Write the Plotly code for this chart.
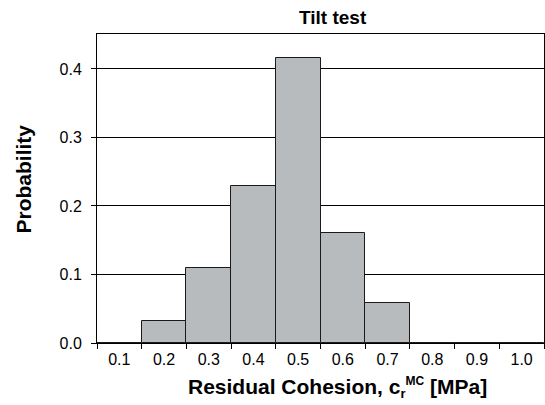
import plotly.graph_objects as go

categories = ["0.1", "0.2", "0.3", "0.4", "0.5", "0.6", "0.7", "0.8", "0.9", "1.0"]
probability = [0.0, 0.0326, 0.110, 0.2295, 0.4157, 0.1604, 0.058, 0.0, 0.0, 0.0]
y_ticks = [0.0, 0.1, 0.2, 0.3, 0.4]

font = "Liberation Sans, Arial, sans-serif"

fig = go.Figure(go.Bar(
    x=categories, y=probability,
    marker=dict(color="#b8bbbe", line=dict(color="#1a1a1a", width=1)),
))

fig.update_layout(
    width=545, height=405,
    margin=dict(l=97, r=1, t=34, b=62),
    plot_bgcolor="white", paper_bgcolor="white",
    bargap=0, showlegend=False,
    font=dict(family=font, color="#000000", size=16),
    annotations=[
        dict(text="<b>Tilt test</b>", xref="paper", yref="paper", x=0.529, y=1.053,
             xanchor="center", yanchor="middle", showarrow=False,
             font=dict(size=19, family=font)),
        dict(text="<b>Residual Cohesion, c<sub><span style='font-size:13px'>r</span></sub>"
                  "<sup><span style='font-size:12px'>MC</span></sup> [MPa]</b>",
             xref="paper", yref="paper", x=0.539, y=-0.145,
             xanchor="center", yanchor="middle", showarrow=False,
             font=dict(size=21, family=font)),
        dict(text="<b>Probability</b>", xref="paper", yref="paper", x=-0.165, y=0.53,
             xanchor="center", yanchor="middle", textangle=-90, showarrow=False,
             font=dict(size=21, family=font)),
    ],
)
fig.update_xaxes(
    type="category", range=[-0.5, 9.5], tickson="boundaries",
    ticks="outside", ticklen=5, tickcolor="#000", showline=True, linecolor="#000", linewidth=1,
    mirror=True, showgrid=False, ticklabelstandoff=2,
    tickfont=dict(size=16, family=font),
)
fig.update_yaxes(
    range=[0, 0.451], tickvals=y_ticks, tickformat=".1f",
    ticks="outside", ticklen=5, tickcolor="#000", showline=True, linecolor="#000", linewidth=1,
    mirror=True, showgrid=True, gridcolor="#000", gridwidth=1,
    zeroline=True, zerolinecolor="#000", zerolinewidth=1, ticklabelstandoff=6,
    tickfont=dict(size=16, family=font),
)

fig.write_html("out.html")
